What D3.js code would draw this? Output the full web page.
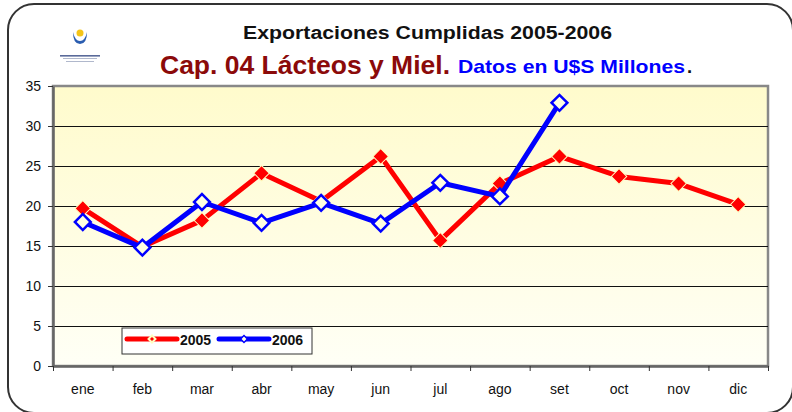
<!DOCTYPE html>
<html>
<head>
<script src="https://cdnjs.cloudflare.com/ajax/libs/d3/7.8.5/d3.min.js"></script>
<style>
  body { margin: 0; background: #fff; }
  text { font-family: Arial, "Liberation Sans", sans-serif; }
  .tick text { fill: #111; font-size: 14px; }
</style>
</head>
<body>
<svg width="792" height="412"></svg>
<script>
// data
var months = ["ene", "feb", "mar", "abr", "may", "jun", "jul", "ago", "set", "oct", "nov", "dic"];
var values2005 = [19.7, 14.9, 18.2, 24.1, 20.6, 26.2, 15.7, 22.8, 26.2, 23.7, 22.8, 20.2];
var values2006 = [18.0, 14.8, 20.5, 17.9, 20.4, 17.8, 22.9, 21.2, 32.9];
var yTicks = [0, 5, 10, 15, 20, 25, 30, 35];
var seriesNames = ["2005", "2006"];

var svg = d3.select("svg");
var plotL = 53, plotR = 768, plotT = 86, plotB = 366;

var x = d3.scaleBand().domain(months).range([plotL, plotR]);
var xEdge = d3.scaleLinear().domain([0, months.length]).range([plotL, plotR]);
var y = d3.scaleLinear().domain([0, 35]).range([plotB, plotT]);

// outer rounded frame
svg.append("rect")
  .attr("x", 8).attr("y", 4).attr("width", 785).attr("height", 409)
  .attr("rx", 26)
  .style("fill", "#fff").style("stroke", "#333").style("stroke-width", 2);

// plot background gradient
var grad = svg.append("defs").append("linearGradient")
  .attr("id", "bg").attr("x1", 0).attr("y1", 0).attr("x2", 0).attr("y2", 1);
grad.append("stop").attr("offset", "0%").attr("stop-color", "#fffbcc");
grad.append("stop").attr("offset", "100%").attr("stop-color", "#fffff6");

svg.append("rect")
  .attr("x", plotL).attr("y", plotT)
  .attr("width", plotR - plotL).attr("height", plotB - plotT)
  .style("fill", "url(#bg)")
  .style("stroke", "#888").style("stroke-width", 2.5);

// gridlines
svg.selectAll("line.grid")
  .data(yTicks.filter(d => d > 0 && d < 35))
  .enter().append("line")
  .attr("class", "grid")
  .attr("x1", plotL).attr("x2", plotR)
  .attr("y1", d => Math.round(y(d)) + 0.5).attr("y2", d => Math.round(y(d)) + 0.5)
  .style("stroke", "#111").style("stroke-width", 1);

// y axis
var yAxis = svg.append("g")
  .attr("transform", "translate(" + plotL + ",0)")
  .call(d3.axisLeft(y).tickValues(yTicks).tickSize(5).tickPadding(7).tickSizeOuter(0));
yAxis.select(".domain").style("stroke", "#666").style("stroke-width", 2.5);
yAxis.selectAll(".tick line").style("stroke", "#333");

// x axis: ticks at band edges, labels at band centres
var xTicks = svg.append("g")
  .attr("transform", "translate(0," + plotB + ")")
  .call(d3.axisBottom(xEdge).tickValues(d3.range(months.length + 1)).tickFormat("").tickSize(5).tickSizeOuter(0));
xTicks.select(".domain").style("stroke", "#666").style("stroke-width", 2.5);
xTicks.selectAll(".tick line").style("stroke", "#333");

var xLabels = svg.append("g")
  .attr("transform", "translate(0," + plotB + ")")
  .call(d3.axisBottom(x).tickSize(0).tickPadding(18));
xLabels.select(".domain").remove();

// series
var line = d3.line()
  .x((d, i) => x(months[i]) + x.bandwidth() / 2)
  .y(d => y(d));

var diamond = d3.symbol().type(d3.symbolSquare);

function drawSeries(values, color, markerFill, markerStroke, markerSize, markerStrokeW) {
  svg.append("path")
    .datum(values)
    .attr("d", line)
    .style("fill", "none")
    .style("stroke", color)
    .style("stroke-width", 5)
    .style("stroke-linejoin", "round");
  svg.selectAll(null)
    .data(values)
    .enter().append("path")
    .attr("d", diamond.size(markerSize))
    .attr("transform", (d, i) => "translate(" + (x(months[i]) + x.bandwidth() / 2) + "," + y(d) + ") rotate(45)")
    .style("fill", markerFill)
    .style("stroke", markerStroke)
    .style("stroke-width", markerStrokeW);
}

drawSeries(values2005, "#ff0000", "#ff0000", "#ffffc0", 120, 1);
drawSeries(values2006, "#0000ff", "#ffffe0", "#0000ff", 125, 2.5);

// legend
var legend = svg.append("g");
legend.append("rect")
  .attr("x", 122).attr("y", 328).attr("width", 190).attr("height", 26)
  .style("fill", "#fff").style("stroke", "#333").style("stroke-width", 1);

var legendItems = [
  { name: seriesNames[0], color: "#ff0000", x0: 127 },
  { name: seriesNames[1], color: "#0000ff", x0: 219 }
];
legendItems.forEach(function (it, i) {
  legend.append("line")
    .attr("x1", it.x0).attr("x2", it.x0 + 50)
    .attr("y1", 339).attr("y2", 339)
    .style("stroke", it.color).style("stroke-width", 5).style("stroke-linecap", "round");
  legend.append("path")
    .attr("d", diamond.size(24))
    .attr("transform", "translate(" + (it.x0 + 25) + ",339) rotate(45)")
    .style("fill", i === 0 ? "#ff0000" : "#ffffe0")
    .style("stroke", i === 0 ? "#ffffc0" : "#0000ff")
    .style("stroke-width", i === 0 ? 2 : 1.5);
  legend.append("text")
    .attr("x", it.x0 + 53).attr("y", 345)
    .style("font-size", "14px").style("font-weight", "bold").style("fill", "#111")
    .text(it.name);
});

// logo (small emblem)
var logo = svg.append("g");
logo.append("circle").attr("cx", 80).attr("cy", 33).attr("r", 3.5).style("fill", "#f5c518");
logo.append("path")
  .attr("d", "M73,32 Q73,44 80,44 Q87,44 87,32 Q85,41 80,41 Q75,41 73,32 Z")
  .style("fill", "#2a5db0");
[55, 58, 61].forEach(function (yy, i) {
  logo.append("rect")
    .attr("x", 60 + i * 3).attr("y", yy).attr("width", 40 - i * 6).attr("height", i === 0 ? 1.6 : 1)
    .style("fill", i === 0 ? "#5a6a9a" : "#b0b8cc");
});

// titles
svg.append("text")
  .attr("x", 243).attr("y", 39)
  .attr("textLength", 369).attr("lengthAdjust", "spacingAndGlyphs")
  .style("font-size", "17.5px").style("font-weight", "bold").style("fill", "#111")
  .text("Exportaciones Cumplidas 2005-2006");

svg.append("text")
  .attr("x", 160).attr("y", 74)
  .attr("textLength", 290).attr("lengthAdjust", "spacingAndGlyphs")
  .style("font-size", "26px").style("font-weight", "bold").style("fill", "#8b0a0a")
  .text("Cap. 04 Lácteos y Miel.");
svg.append("text")
  .attr("x", 458).attr("y", 73)
  .attr("textLength", 227).attr("lengthAdjust", "spacingAndGlyphs")
  .style("font-size", "18.5px").style("font-weight", "bold").style("fill", "#0000ff")
  .text("Datos en U$S Millones");
svg.append("text")
  .attr("x", 687).attr("y", 73)
  .style("font-size", "18.5px").style("font-weight", "bold").style("fill", "#111")
  .text(".");
</script>
</body>
</html>
